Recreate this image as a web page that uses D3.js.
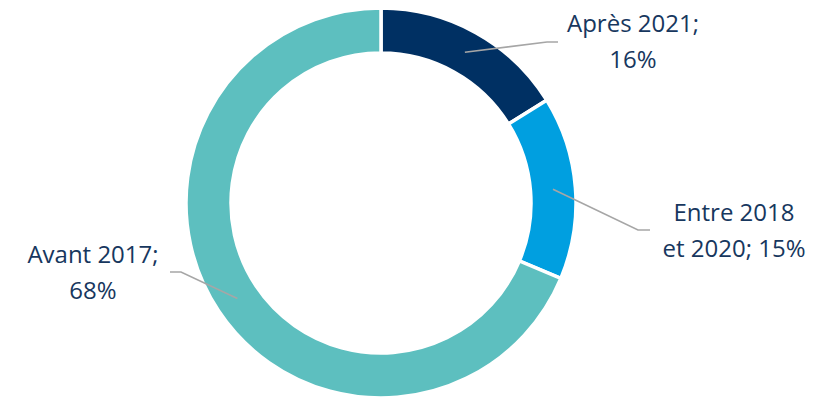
<!DOCTYPE html>
<html>
<head>
<meta charset="utf-8">
<script src="https://cdnjs.cloudflare.com/ajax/libs/d3/7.8.5/d3.min.js"></script>
<style>
  body { margin: 0; background: #fff; }
  svg { display: block; }
</style>
</head>
<body>
<div id="chart"></div>
<script>
// data
var categories = ["Après 2021", "Entre 2018 et 2020", "Avant 2017"];
var values = [16, 15, 68];
var labelLines = [["Après 2021;", "16%"], ["Entre 2018", "et 2020; 15%"], ["Avant 2017;", "68%"]];
var colors = ["#003063", "#009fe0", "#5dbfbf"];

// label layout (elbow x/y, end x, text centre x, first baseline y)
var labelLayout = [
  {ex: 547, ey: 42, tx: 558, cx: 633, by: 32},
  {ex: 638, ey: 230, tx: 650, cx: 734, by: 221},
  {ex: 181, ey: 272, tx: 170, cx: 93, by: 263}
];

var width = 831, height = 400,
    cx = 381, cy = 203,
    outerR = 195, innerR = 150;

var svg = d3.select("#chart")
  .append("svg")
  .attr("width", width)
  .attr("height", height);

var g = svg.append("g")
  .attr("transform", "translate(" + cx + "," + cy + ")");

var pie = d3.pie().sort(null).value(function(d) { return d; });
var arc = d3.arc().innerRadius(innerR).outerRadius(outerR);
var midArc = d3.arc().innerRadius((innerR + outerR) / 2).outerRadius((innerR + outerR) / 2);

var arcs = pie(values);

//drawing the slices
g.selectAll("path.slice")
  .data(arcs)
  .enter()
  .append("path")
  .attr("class", "slice")
  .attr("d", arc)
  .attr("fill", function(d, i) { return colors[i]; })
  .attr("stroke", "#fff")
  .attr("stroke-width", 3.5);

//leader lines
arcs.forEach(function(d, i) {
  var c = midArc.centroid(d);
  var L = labelLayout[i];
  svg.append("polyline")
    .attr("points", [[c[0] + cx, c[1] + cy], [L.ex, L.ey], [L.tx, L.ey]].join(" "))
    .attr("fill", "none")
    .attr("stroke", "#a6a6a6")
    .attr("stroke-width", 1.6);

  var t = svg.append("text")
    .attr("text-anchor", "middle")
    .style("font-family", "'Open Sans', sans-serif")
    .style("font-size", "24px")
    .attr("fill", "#17375e");
  labelLines[i].forEach(function(s, j) {
    t.append("tspan")
      .attr("x", L.cx)
      .attr("y", L.by + j * 36)
      .text(s);
  });
});
</script>
</body>
</html>
